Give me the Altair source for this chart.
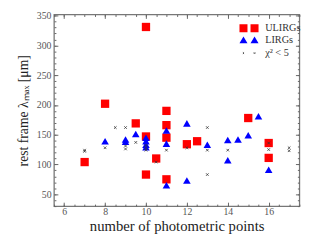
import altair as alt
import pandas as pd

# ULIRGs (red squares)
ulirg_x = [7, 8, 9.5, 10, 10, 10, 10.5, 11, 11, 11, 11, 12, 12.5, 15, 16, 16]
ulirg_y = [104, 202, 169, 331, 147, 83, 110, 190, 166, 145, 75, 134, 139, 178, 136, 111]

# LIRGs (blue triangles)
lirg_x = [8, 9, 9, 9.5, 10, 10, 10, 10, 11, 11, 11, 12, 12, 13, 14, 14, 14.5, 15, 15.5, 16]
lirg_y = [139, 142, 138, 151, 145, 139, 133, 129, 157, 135, 65, 169, 73, 133, 141, 107, 142, 149, 181, 91]

# chi^2 < 5 (small crosses)
chi_x = [7, 7, 8, 8.5, 9, 9, 9, 9.5, 10, 10, 10, 10.5, 11, 12, 13, 13, 13, 14, 16, 16, 17, 17]
chi_y = [124, 122, 128, 162, 162, 131, 126, 137, 128, 124, 132, 104, 124, 128, 162, 124, 83, 124, 136, 125, 128, 123]

x_major = [6, 8, 10, 12, 14, 16]
x_minor = [5.5 + 0.5 * i for i in range(25)]
y_major = [50, 100, 150, 200, 250, 300, 350]
y_minor = [30 + 10 * i for i in range(33)]

W, H = 251, 196

ulirg = pd.DataFrame({"x": ulirg_x, "y": ulirg_y, "t": "ULIRGs"})
lirg = pd.DataFrame({"x": lirg_x, "y": lirg_y, "t": "LIRGs"})
chi = pd.DataFrame({"x": chi_x, "y": chi_y, "t": "χ² < 5"})

xs = alt.Scale(domain=[5.5, 17.5], nice=False, zero=False)
ys = alt.Scale(domain=[30, 352], nice=False, zero=False)

def tick_axis(orient, values, size, offset):
    return alt.Axis(orient=orient, values=values, tickSize=size, offset=offset,
                    labels=False, domain=False, grid=False, title=None,
                    tickColor="#666", tickWidth=1)

label_x = alt.Axis(orient="bottom", values=x_major, ticks=False, domain=False, grid=False,
                   labelPadding=1, labelFontSize=10, labelColor="#555",
                   title="number of photometric points", titleFontSize=15,
                   titleFontWeight="normal", titleColor="#222", titlePadding=2)
label_y = alt.Axis(orient="left", values=y_major, ticks=False, domain=False, grid=False,
                   labelPadding=3, labelFontSize=10, labelColor="#555",
                   title="rest frame λₘₐₓ [μm]", titleFontSize=14,
                   titleFontWeight="normal", titleColor="#222",
                   titleX=-31, titleBaseline="middle")

sq_path = "M-1,-0.42H-0.16V0.42H-1Z M0.16,-0.42H1V0.42H0.16Z"
tri_path = "M-1,0.36L-0.58,-0.36L-0.16,0.36Z M0.16,0.36L0.58,-0.36L1,0.36Z"
x_path = "M-0.64,-0.06L-0.52,0.06M-0.64,0.06L-0.52,-0.06 M0.52,-0.06L0.64,0.06M0.52,0.06L0.64,-0.06"

def leg(path, ly):
    return alt.Legend(title=None, orient="none", legendX=189, legendY=ly, symbolType=path,
                      symbolSize=380, labelFontSize=10.5, labelColor="#333", labelOffset=6,
                      padding=0, symbolStrokeWidth=1, labelLimit=200)

sq = alt.Chart(ulirg).mark_point(shape="square", filled=True, size=72, opacity=1).encode(
    x=alt.X("x:Q", scale=xs, axis=label_x),
    y=alt.Y("y:Q", scale=ys, axis=label_y),
    color=alt.Color("t:N", scale=alt.Scale(domain=["ULIRGs"], range=["#ff0000"]),
                    legend=leg(sq_path, 3.5)),
)
tr = alt.Chart(lirg).mark_point(shape="triangle-up", filled=True, size=60, opacity=1).encode(
    x=alt.X("x:Q", scale=xs, axis=tick_axis("top", x_major, 4, -H)),
    y=alt.Y("y:Q", scale=ys, axis=tick_axis("right", y_major, 4, -W)),
    color=alt.Color("t:N", scale=alt.Scale(domain=["LIRGs"], range=["#0000ff"]),
                    legend=leg(tri_path, 15.5)),
)
cx = alt.Chart(chi).mark_point(shape="M-1,-1L1,1M-1,1L1,-1", filled=False, size=7,
                               strokeWidth=0.8, opacity=1).encode(
    x=alt.X("x:Q", scale=xs, axis=tick_axis("bottom", x_major, 4, -H)),
    y=alt.Y("y:Q", scale=ys, axis=tick_axis("left", y_major, 4, -W)),
    color=alt.Color("t:N", scale=alt.Scale(domain=["χ² < 5"], range=["#333333"]),
                    legend=leg(x_path, 29)),
)
m1 = alt.Chart(ulirg).mark_point(opacity=0).encode(
    x=alt.X("x:Q", scale=xs, axis=tick_axis("top", x_minor, 2, -H)),
    y=alt.Y("y:Q", scale=ys, axis=tick_axis("right", y_minor, 2, -W)),
)
m2 = alt.Chart(ulirg).mark_point(opacity=0).encode(
    x=alt.X("x:Q", scale=xs, axis=tick_axis("bottom", x_minor, 2, -H)),
    y=alt.Y("y:Q", scale=ys, axis=tick_axis("left", y_minor, 2, -W)),
)

chart = alt.layer(m1, m2, sq, tr, cx).resolve_axis(
    x="independent", y="independent"
).resolve_scale(color="independent").properties(
    width=W, height=H,
    autosize=alt.AutoSizeParams(type="none"),
    padding={"left": 47, "top": 4, "right": 16, "bottom": 30},
).configure(font="Liberation Serif").configure_view(stroke="#777", strokeWidth=1.3)

chart.save("out.html", embed_options={"renderer": "svg", "actions": False})
